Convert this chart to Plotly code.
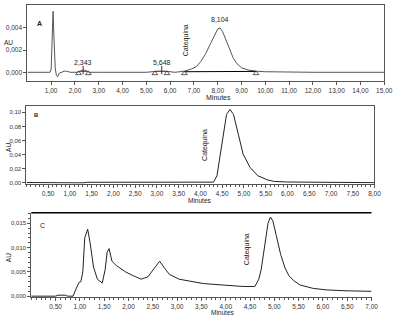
import plotly.graph_objects as go

# ---------------- data ----------------
# Panel A chromatogram
a_time = [0, 0.95, 1.0, 1.04, 1.08, 1.12, 1.17, 1.22, 1.27, 1.33, 1.42, 1.55, 1.65, 1.8, 2.1, 2.3, 2.343, 2.4, 2.6,
          3.0, 4.0, 4.5, 5.0, 5.5, 5.65, 5.8, 6.2, 6.6, 6.9, 7.1, 7.3, 7.5, 7.7, 7.9, 8.0, 8.1, 8.2, 8.35, 8.5,
          8.65, 8.8, 9.0, 9.3, 9.6, 10.0, 12.0, 15.0]
a_au = [0, 0, 0.0003, 0.0028, 0.0055, 0.0030, 0.0004, -0.0003, -0.0004, -0.0001, 0.0, 0.0001, 0.0001, 0.0, 0.0,
        0.0002, 0.0002, 0.0002, 0.0, 0.0, 0.0, 0.00003, 0.0, 0.0001, 0.0001, 0.0001, 0.0, 0.0001, 0.0003, 0.0005,
        0.0010, 0.0017, 0.0026, 0.0035, 0.0039, 0.0040, 0.0037, 0.0029, 0.0020, 0.0013, 0.0008, 0.0004, 0.0002,
        0.0001, 0.00005, 0.0, 0.0]
a_peak_times = [2.343, 5.648, 8.104]
a_peak_labels = ["2,343", "5,648", "8,104"]
a_peak_label_au = [0.0009, 0.0009, 0.0048]
a_marker_times = [2.15, 2.56, 5.36, 5.87, 6.6, 9.61]
a_marker_au = [-0.0001, -0.0001, -0.0001, -0.0001, -0.0001, -0.0001]
a_red_segments = [(2.15, 2.56), (5.36, 5.87)]
a_base_times = [6.6, 9.61]
a_base_au = [0.00005, 0.00008]
a_xticks = list(range(1, 16))
a_xticklabels = ["1,00", "2,00", "3,00", "4,00", "5,00", "6,00", "7,00", "8,00", "9,00", "10,00",
                 "11,00", "12,00", "13,00", "14,00", "15,00"]
a_yticks = [0.0, 0.002, 0.004]
a_yticklabels = ["0,000", "0,002", "0,004"]

# Panel B chromatogram
b_time = [0, 0.6, 0.7, 0.8, 1.3, 1.4, 1.6, 1.7, 1.9, 2.0, 2.1, 2.6, 2.75, 2.85, 3.5, 4.2, 4.30, 4.38, 4.49, 4.60,
          4.68, 4.76, 4.87, 4.98, 5.14, 5.32, 5.55, 5.70, 6.0, 7.0, 7.5, 7.55, 8.0]
b_au = [0.0005, 0.0005, -0.0003, 0.0, 0.0, 0.0008, 0.0008, 0.0003, 0.0007, 0.0007, 0.0, 0.0, 0.0008, 0.0, 0.0,
        0.0002, 0.001, 0.010, 0.055, 0.097, 0.104, 0.097, 0.069, 0.041, 0.022, 0.010, 0.004, 0.002, 0.0012,
        0.001, 0.001, 0.0003, 0.0003]
b_xticks = [0.5, 1.0, 1.5, 2.0, 2.5, 3.0, 3.5, 4.0, 4.5, 5.0, 5.5, 6.0, 6.5, 7.0, 7.5, 8.0]
b_xticklabels = ["0,50", "1,00", "1,50", "2,00", "2,50", "3,00", "3,50", "4,00", "4,50", "5,00", "5,50",
                 "6,00", "6,50", "7,00", "7,50", "8,00"]
b_yticks = [0.0, 0.02, 0.04, 0.06, 0.08, 0.10]
b_yticklabels = ["0,00", "0,02", "0,04", "0,06", "0,08", "0,10"]

# Panel C chromatogram
c_time = [0, 0.5, 0.55, 0.7, 0.75, 0.86, 0.92, 0.98, 1.02, 1.06, 1.10, 1.16, 1.21, 1.28, 1.36, 1.46, 1.52, 1.56,
          1.60, 1.66, 1.75, 1.94, 2.1, 2.26, 2.4, 2.54, 2.64, 2.74, 2.84, 3.04, 3.3, 3.54, 3.8, 4.06, 4.35, 4.6,
          4.68, 4.73, 4.81, 4.87, 4.92, 4.97, 5.04, 5.13, 5.22, 5.3, 5.4, 5.53, 5.8, 6.06, 6.5, 7.0]
c_au = [0.0, 0.0, 0.0002, 0.0002, 0.0, 0.0, 0.0015, 0.0028, 0.0030, 0.0050, 0.0120, 0.0138, 0.0110, 0.0060,
        0.0035, 0.0027, 0.0055, 0.0090, 0.0098, 0.0072, 0.0063, 0.0050, 0.0042, 0.0035, 0.0040, 0.0060, 0.0072,
        0.0058, 0.0045, 0.0035, 0.0030, 0.0026, 0.0024, 0.0022, 0.0020, 0.0020, 0.0035, 0.0055, 0.0113, 0.0150,
        0.0163, 0.0155, 0.0125, 0.0086, 0.0058, 0.0042, 0.0032, 0.0023, 0.0016, 0.0013, 0.0011, 0.0010]
c_xticks = [0.5, 1.0, 1.5, 2.0, 2.5, 3.0, 3.5, 4.0, 4.5, 5.0, 5.5, 6.0, 6.5, 7.0]
c_xticklabels = ["0,50", "1,00", "1,50", "2,00", "2,50", "3,00", "3,50", "4,00", "4,50", "5,00", "5,50",
                 "6,00", "6,50", "7,00"]
c_yticks = [0.0, 0.005, 0.010, 0.015]
c_yticklabels = ["0,000", "0,005", "0,010", "0,015"]

# ---------------- figure ----------------
W, H = 404, 322


def px_x(p):
    return p / W


def px_y(p):
    return 1 - p / H


FONT = "Liberation Sans, Arial, sans-serif"
NARROW = "Liberation Sans Narrow, Liberation Sans, Arial, sans-serif"
AX = "#555555"
fig = go.Figure()

# A
fig.add_trace(go.Scatter(x=a_time, y=a_au, mode="lines", line=dict(color="#555555", width=1),
                         xaxis="x", yaxis="y", hoverinfo="skip"))
fig.add_trace(go.Scatter(x=a_base_times, y=a_base_au, mode="lines", line=dict(color="#000000", width=1),
                         xaxis="x", yaxis="y", hoverinfo="skip"))
for s, e in a_red_segments:
    fig.add_trace(go.Scatter(x=[s, e], y=[0.00008, 0.00008], mode="lines", line=dict(color="#cc2222", width=1),
                             xaxis="x", yaxis="y", hoverinfo="skip"))
fig.add_trace(go.Scatter(x=a_marker_times, y=a_marker_au, mode="markers",
                         marker=dict(symbol="triangle-up-open", size=5, color="#333333", line=dict(width=0.8)),
                         xaxis="x", yaxis="y", hoverinfo="skip"))
fig.add_trace(go.Scatter(x=a_peak_times[:2], y=[0.0002, 0.0002], mode="markers",
                         marker=dict(symbol="line-ns", size=6, color="#333333", line=dict(width=1, color="#333333")),
                         xaxis="x", yaxis="y", hoverinfo="skip"))

# B
fig.add_trace(go.Scatter(x=b_time, y=b_au, mode="lines", line=dict(color="#222222", width=1),
                         xaxis="x2", yaxis="y2", hoverinfo="skip"))
# C
fig.add_trace(go.Scatter(x=c_time, y=c_au, mode="lines", line=dict(color="#222222", width=1),
                         xaxis="x3", yaxis="y3", hoverinfo="skip"))

tickfont = dict(family=FONT, size=6.5, color="#333333")
narrowfont = dict(family=NARROW, size=6.5, color="#333333")
narrowfont_s = dict(family=NARROW, size=6, color="#333333")
base = dict(showgrid=False, zeroline=False, showline=True, linecolor=AX, linewidth=1,
            ticks="outside", ticklen=3, tickcolor=AX, tickmode="array")

fig.update_layout(
    width=W, height=H, margin=dict(l=0, r=0, t=0, b=0),
    paper_bgcolor="white", plot_bgcolor="white", showlegend=False,
    xaxis=dict(domain=[px_x(28), px_x(393)], range=[0, 15], anchor="y", mirror=True,
               tickvals=a_xticks, ticktext=a_xticklabels, tickfont=tickfont, **base),
    yaxis=dict(domain=[px_y(82), px_y(5)], range=[-0.00083, 0.00607], anchor="x", mirror=True,
               tickvals=a_yticks, ticktext=a_yticklabels, tickfont=tickfont, **base),
    xaxis2=dict(domain=[px_x(27), px_x(383)], range=[0, 8.0], anchor="y2", mirror=True,
                tickvals=b_xticks, ticktext=b_xticklabels, tickfont=narrowfont,
                minor=dict(dtick=0.1, ticks="outside", ticklen=2, tickcolor=AX), **base),
    yaxis2=dict(domain=[px_y(185), px_y(107)], range=[-0.0014, 0.1085], anchor="x2", mirror=True,
                tickvals=b_yticks, ticktext=b_yticklabels, tickfont=narrowfont_s, **base),
    xaxis3=dict(domain=[px_x(32), px_x(380)], range=[0, 7.0], anchor="y3",
                tickvals=c_xticks, ticktext=c_xticklabels, tickfont=narrowfont,
                minor=dict(dtick=0.1, ticks="outside", ticklen=2, tickcolor=AX), **base),
    yaxis3=dict(domain=[px_y(299), px_y(214)], range=[-0.0002, 0.0172], anchor="x3",
                tickvals=c_yticks, ticktext=c_yticklabels, tickfont=narrowfont_s,
                minor=dict(dtick=0.001, ticks="outside", ticklen=2, tickcolor=AX), **base),
)

# top border of C (thick black)
fig.add_shape(type="line", xref="paper", yref="paper", x0=px_x(32), x1=px_x(380), y0=px_y(214), y1=px_y(214),
              line=dict(color="#000000", width=1.5))

ann_font = dict(family=FONT, size=7, color="#222222")
small_font = dict(family=NARROW, size=6.5, color="#222222")
anns = []
# peak labels A
for t, lab, yy in zip(a_peak_times, a_peak_labels, a_peak_label_au):
    anns.append(dict(x=t, y=yy, xref="x", yref="y", text=lab, font=ann_font))
# Catequina labels
anns.append(dict(x=6.67, y=0.0029, xref="x", yref="y", text="Catequina", textangle=-90, font=ann_font))
anns.append(dict(x=4.10, y=0.0535, xref="x2", yref="y2", text="Catequina", textangle=-90, font=ann_font))
anns.append(dict(x=4.44, y=0.0097, xref="x3", yref="y3", text="Catequina", textangle=-90, font=ann_font))
# panel letters
anns.append(dict(x=px_x(40), y=px_y(24), xref="paper", yref="paper", text="<b>A</b>", font=ann_font))
anns.append(dict(x=px_x(37), y=px_y(116), xref="paper", yref="paper", text="<b>B</b>",
                 font=dict(family=FONT, size=6, color="#222222")))
anns.append(dict(x=px_x(43), y=px_y(227), xref="paper", yref="paper", text="C", font=ann_font))
# AU labels
anns.append(dict(x=px_x(9), y=px_y(43), xref="paper", yref="paper", text="AU",
                 font=dict(family=FONT, size=6.5, color="#222222")))
anns.append(dict(x=px_x(8), y=px_y(148), xref="paper", yref="paper", text="AU", textangle=-90, font=small_font))
anns.append(dict(x=px_x(9), y=px_y(259), xref="paper", yref="paper", text="AU", textangle=-90, font=small_font))
# Minutes labels
anns.append(dict(x=px_x(223), y=px_y(98), xref="paper", yref="paper", text="Minutes", font=ann_font))
anns.append(dict(x=px_x(205), y=px_y(201.5), xref="paper", yref="paper", text="Minutes", font=small_font))
anns.append(dict(x=px_x(228), y=px_y(314), xref="paper", yref="paper", text="Minutes", font=small_font))
for a in anns:
    a.update(showarrow=False, xanchor="center", yanchor="middle")
fig.update_layout(annotations=anns)

fig.write_html("out.html", config={"displayModeBar": False},
               post_script="document.body.style.margin='0';document.body.style.padding='0';")
